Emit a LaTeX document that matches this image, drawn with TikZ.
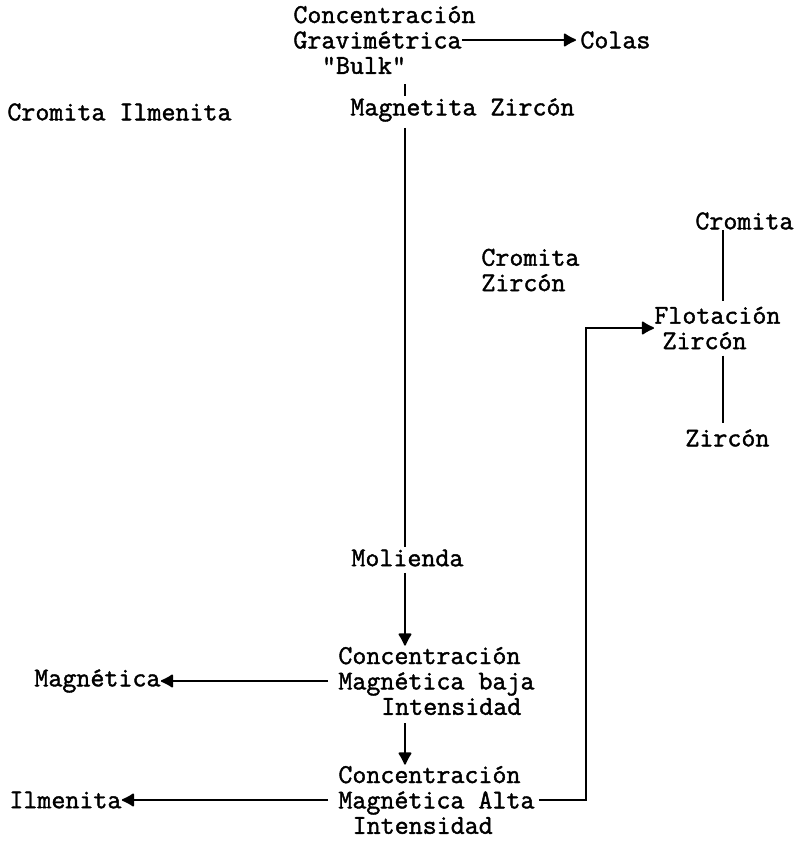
\documentclass[tikz,border=0pt]{standalone}
\usepackage{fontspec}
\newfontfamily\tw{Latin Modern Mono}[FakeBold=1.5]
\usetikzlibrary{arrows.meta}
\begin{document}
\begin{tikzpicture}[x=0.5pt,y=-0.5pt,
  txt/.style={font=\tw\fontsize{13.6}{12.7}\selectfont, inner sep=0pt, align=left, anchor=west},
  ln/.style={line width=0.9pt},
  arr/.style={ln,-{Latex[length=7pt,width=7.5pt,round]}}]
\useasboundingbox (0,0) rectangle (800,859);
% named x positions of the vertical trunks
\coordinate (trunk) at (405,0);
\coordinate (rc) at (723,0);
\coordinate (rt) at (586,0);
% nodes
\node[txt] (grav) at (293,40) {Concentración\\Gravimétrica\\\hspace*{1.05em}"Bulk"};
\node[txt] (colas) at (580,40) {Colas};
\node[txt] (ci) at (7,112) {Cromita Ilmenita};
\node[txt] (mz) at (350,110) {Magnetita Zircón};
\node[txt] (crz) at (481,270) {Cromita\\Zircón};
\node[txt] (crR) at (695,221) {Cromita};
\node[txt] (flot) at (654,328) {Flotación\\\hspace*{0.3em}Zircón};
\node[txt] (zirB) at (685,438) {Zircón};
\node[txt] (mol) at (351,558) {Molienda};
\node[txt] (c1) at (338,681) {Concentración\\Magnética baja\\\hspace*{1.575em}Intensidad};
\node[txt] (magn) at (34,681) {Magnética};
\node[txt] (c2) at (338,800) {Concentración\\Magnética Alta\\\hspace*{0.525em}Intensidad};
\node[txt] (ilm) at (9,800) {Ilmenita};
% connectors
\draw[arr,shorten >=2pt] ([xshift=-7pt]grav.east) -- (colas.west);
\draw[ln,shorten <=5pt,shorten >=1pt] (grav.south -| trunk) -- (mz.north -| trunk);
\draw[ln,shorten <=3pt,shorten >=1pt] (mz.south -| trunk) -- (mol.north -| trunk);
\draw[arr,shorten <=3pt,shorten >=0.5pt] (mol.south -| trunk) -- (c1.north -| trunk);
\draw[arr,shorten <=4pt,shorten >=0.5pt] (c1.south -| trunk) -- (c2.north -| trunk);
\draw[arr,shorten <=5pt] (c1.west) -- (magn.east);
\draw[arr,shorten <=5pt] (c2.west) -- (ilm.east);
\draw[arr,shorten <=2pt] (c2.east) -| (rt |- flot.west) -- (flot.west);
\draw[ln,shorten >=2.5pt] (crR.south -| rc) -- (flot.north -| rc);
\draw[ln,shorten <=3pt,shorten >=3pt] (flot.south -| rc) -- (zirB.north -| rc);
\end{tikzpicture}
\end{document}
